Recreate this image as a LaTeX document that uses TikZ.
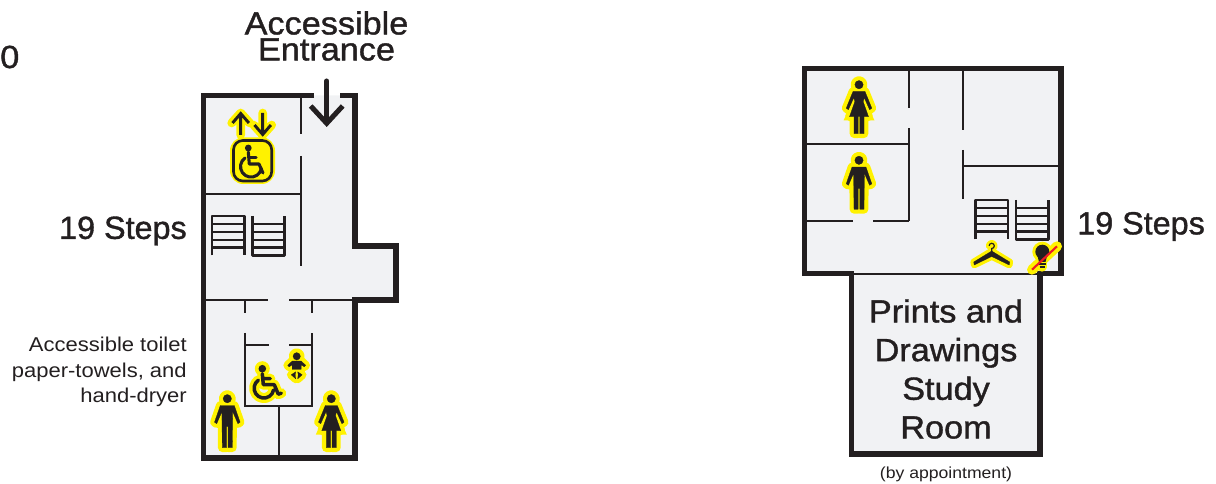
\documentclass[tikz,border=0pt]{standalone}
\usepackage{fontspec}
\setmainfont{Liberation Sans}
\newfontfamily\stepsfont[FakeBold=1.2,FakeStretch=1.01]{Liberation Sans}
\newfontfamily\headfont[FakeBold=1.2,FakeStretch=1.07]{Liberation Sans}
\newfontfamily\notefont[FakeStretch=1.1]{Liberation Sans}
\usetikzlibrary{arrows.meta}
\definecolor{ink}{HTML}{231F20}
\definecolor{halocol}{HTML}{FFF200}
\definecolor{floorcol}{HTML}{F1F2F4}
\definecolor{slashcol}{HTML}{ED1C24}
% figures, head centre at the origin
\def\manshape{(0,0) circle (4.2)
  (-7,6.8) -- (7,6.8) -- (12.8,23.5) -- (10.6,25) -- (5.4,13) -- (5,49) -- (.8,49) -- (.8,28)
  -- (-.8,28) -- (-.8,49) -- (-5,49) -- (-5.4,13) -- (-10.6,25) -- (-12.8,23.5) -- cycle}
\def\womanshape{(0,0) circle (4.2)
  (-6,6.8) -- (6,6.8) -- (12.8,23.5) -- (10.6,25) -- (5.2,13) -- (4.2,17) -- (9.5,32) -- (5,32) -- (5,49) -- (.8,49) -- (.8,32)
  -- (-.8,32) -- (-.8,49) -- (-5,49) -- (-5,32) -- (-9.5,32) -- (-4.2,17) -- (-5.2,13) -- (-10.6,25) -- (-12.8,23.5) -- cycle}
\def\chairshape{(0,5) -- (1,16) -- (12,16) -- (16,25.5) -- (19,24.5)
  (.4,10) -- (8,10)
  (-4,11.5) arc (235:10:9.8)}
\def\babyshape{(0,0) circle (3.7)
  (-9,9) -- (-4.5,4.8) -- (4.5,4.8) -- (9,9) -- (7.5,10.5) -- (4.5,8.5) -- (4.5,13) -- (-4.5,13) -- (-4.5,8.5) -- (-7.5,10.5) -- cycle
  (-1,15.5) -- (-5.5,18.5) -- (-1,22.5) -- (-1.5,18.5) -- cycle
  (1,15.5) -- (5.5,18.5) -- (1,22.5) -- (1.5,18.5) -- cycle}
\def\hangershape{(0,0) -- (18,11) -- (17.5,14) -- (0,5.5) -- (-17.5,14) -- (-18,11) -- cycle}
\def\hookshape{(0,1) -- (0,-2.5) arc (90:-180:2.6)}
\tikzset{
  wall/.style={draw=ink,line width=4pt},
  partition/.style={draw=ink,line width=1.6pt},
  halofill/.style={draw=halocol,fill=halocol,line width=6.5pt,line join=round},
  halostroke/.style={draw=halocol,line width=7.5pt,line join=round,line cap=round},
  inkfill/.style={draw=ink,fill=ink,line width=.2pt,line join=round},
  inkstroke/.style={draw=ink,line width=1.9pt,line cap=round,line join=round},
  bigtext/.style={text=ink,font=\headfont\fontsize{24}{19.5}\selectfont},
  stepstext/.style={text=ink,font=\stepsfont\fontsize{24}{24}\selectfont},
  smalltext/.style={text=ink,font=\notefont\fontsize{15}{19.3}\selectfont},
  pics/man/.style={code={
    \path[halofill] \manshape;
    \path[inkfill] \manshape;
  }},
  pics/woman/.style={code={
    \path[halofill] \womanshape;
    \fill[halocol] (-15.5,35.8) -- (15.5,35.8) -- (10,24) -- (-10,24) -- cycle;
    \path[inkfill] \womanshape;
  }},
  pics/chair/.style={code={
    \draw[halostroke] \chairshape;
    \fill[halocol] (0,0) circle (7.5);
    \fill[ink] (0,0) circle (3.8);
    \draw[inkstroke,line width=2.6pt] \chairshape;
  }},
  pics/baby/.style={code={
    \path[halofill] \babyshape;
    \path[inkfill] \babyshape;
  }},
  pics/hanger/.style={code={
    \path[halofill,line width=5pt] \hangershape;
    \draw[halostroke,line width=5pt] \hookshape;
    \path[inkfill] \hangershape;
    \draw[ink,line width=.9pt] \hookshape;
  }},
  pics/stairs/.style={code={
    \draw[inkstroke,line cap=butt] (0,39.3) -- (0,0) -- (32.3,0) -- (32.3,39.3);
    \draw[inkstroke,line cap=butt] (40.3,0) -- (40.3,39.3) -- (72.6,39.3) -- (72.6,0);
    \foreach \y in {8,16,24,31.5} {
      \draw[inkstroke,line cap=butt] (0,\y) -- (32.3,\y);
      \draw[inkstroke,line cap=butt] (40.3,\y) -- (72.6,\y);
    }
  }},
}
\begin{document}
\begin{tikzpicture}[x=.75pt,y=-.75pt]
  \useasboundingbox (0,0) rectangle (1216,484);

  % ground floor
  \fill[floorcol] (203.5,95.5) -- (355,95.5) -- (355,246) -- (396,246) -- (396,300) -- (355,300) -- (355,458) -- (203.5,458) -- cycle;
  \draw[wall] (314,95.5) -- (203.5,95.5) -- (203.5,458) -- (355,458) -- (355,300) -- (396,300) -- (396,246) -- (355,246) -- (355,95.5) -- (340,95.5);
  \draw[partition] (301,96) -- (301,134);
  \draw[partition] (301,156) -- (301,266);
  \draw[partition] (204,193.7) -- (301,193.7);
  \draw[partition] (204,300) -- (268,300);
  \draw[partition] (289,300) -- (355,300);
  \draw[partition] (245.3,300) -- (245.3,312.7);
  \draw[partition] (311.7,300) -- (311.7,312.7);
  \draw[partition] (245.3,333) -- (245.3,405.7) -- (311.7,405.7) -- (311.7,333);
  \draw[partition] (245.3,345.3) -- (269,345.3);
  \draw[partition] (289,345.3) -- (311.7,345.3);
  \draw[partition] (279,405.7) -- (279,458);
  \pic at (212,216) {stairs};

  % lift
  \draw[halostroke,line width=6.5pt] (240.7,135) -- (240.7,113) (231.7,123) -- (240.7,113) -- (249.7,123);
  \draw[halostroke,line width=6.5pt] (262.7,113) -- (262.7,135) (253.7,125) -- (262.7,135) -- (271.7,125);
  \fill[halocol,rounded corners=10pt] (230,137.3) rectangle (275,184);
  \draw[ink,line width=2pt,rounded corners=7pt] (233.5,140.5) rectangle (271.7,181);
  \draw[ink,line width=2.2pt] (240.7,135) -- (240.7,113.5) (232.5,123) -- (240.7,113.5) -- (248.9,123);
  \draw[ink,line width=2.2pt] (262.7,113) -- (262.7,134.5) (254.5,125) -- (262.7,134.5) -- (270.9,125);
  \fill[ink] (248.3,148) circle (3.4);
  \draw[inkstroke,line width=2.3pt] (248.3,152) -- (249.3,164) -- (259,164) -- (263,173);
  \draw[inkstroke,line width=2.3pt] (249,157.5) -- (256,157.5);
  \draw[inkstroke,line width=2.3pt] (245,158) arc (235:10:10.5);

  \pic at (227.3,398.7) {man};
  \pic at (331.3,398.7) {woman};
  \pic at (262.3,368.7) {chair};
  \pic at (296.7,356.3) {baby};

  % first floor
  \fill[floorcol] (804.3,68.3) rectangle (1061,273.3);
  \fill[floorcol] (851.7,273.3) rectangle (1040,454);
  \draw[wall] (851.7,273.3) -- (804.3,273.3) -- (804.3,68.3) -- (1061,68.3) -- (1061,273.3) -- (1040,273.3);
  \draw[wall] (851.7,271.4) -- (851.7,454) -- (1040,454) -- (1040,271.4);
  \draw[partition] (851.7,274) -- (1040,274);
  \draw[partition] (908.7,68) -- (908.7,108);
  \draw[partition] (908.7,128.3) -- (908.7,220.7);
  \draw[partition] (804,144.3) -- (908.7,144.3);
  \draw[partition] (804,220.7) -- (853.3,220.7);
  \draw[partition] (873.3,220.7) -- (908.7,220.7);
  \draw[partition] (962.7,68) -- (962.7,130);
  \draw[partition] (962.7,150) -- (962.7,199.3);
  \draw[partition] (962.7,166.3) -- (1061,166.3);
  \pic at (975.7,200) {stairs};

  \pic at (859,84.7) {woman};
  \pic at (859,160.3) {man};
  \pic at (991.7,251) {hanger};

  % bulb with slash
  \fill[halocol] (1042.3,251.7) circle (10);
  \draw[halocol,line width=7pt,line cap=round] (1042,258) -- (1042,267);
  \draw[halocol,line width=7.5pt,line cap=round] (1032,269.7) -- (1057,246.3);
  \fill[ink] (1042.3,251.7) circle (7);
  \fill[ink] (1037,254) -- (1047.5,254) -- (1045.5,262) -- (1039,262) -- cycle;
  \draw[ink,line width=1pt] (1038.5,264) -- (1046,264);
  \draw[ink,line width=1pt] (1039.5,267) -- (1045,267);
  \draw[slashcol,line width=1.6pt] (1032,269.7) -- (1057,246.3);

  % labels
  \node[bigtext,anchor=west,inner sep=0pt] (floorNum) at (0,57) {0};
  \node[bigtext,align=center,inner sep=0pt] (entranceLabel) at (326.5,36) {Accessible\\Entrance};
  \node[stepstext,anchor=east,inner sep=0pt] (stepsLeft) at (187,231) {19 Steps};
  \node[stepstext,anchor=west,inner sep=0pt] (stepsRight) at (1077,226.5) {19 Steps};
  \node[smalltext,align=right,anchor=east,inner sep=0pt] (toiletLabel) at (187,372) {Accessible toilet\\paper-towels, and\\hand-dryer};
  \node[bigtext,align=center,inner sep=0pt,font=\headfont\fontsize{24}{29}\selectfont] (studyLabel) at (946,369) {Prints and\\Drawings\\Study\\Room};
  \node[smalltext,font=\notefont\fontsize{12}{14}\selectfont,inner sep=0pt] (apptLabel) at (946,474) {(by appointment)};

  % entrance arrow
  \coordinate (entranceTop) at (326.7,81);
  \coordinate (entranceTip) at (326.7,127);
  \draw[-{Straight Barb[length=13pt,width=24pt]},ink,line width=3.75pt,line cap=round] (entranceTop) -- (entranceTip);
\end{tikzpicture}
\end{document}
